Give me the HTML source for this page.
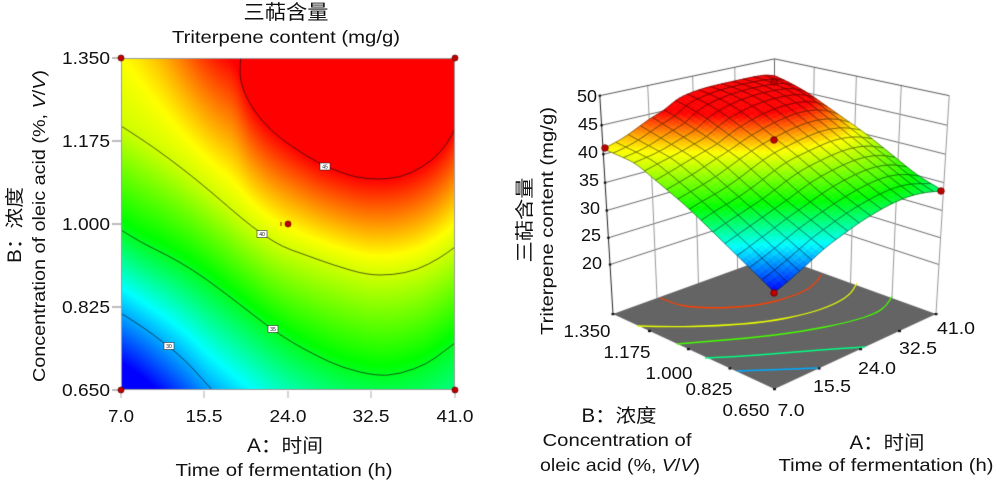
<!DOCTYPE html>
<html><head><meta charset="utf-8">
<style>
html,body{margin:0;padding:0;background:#fff;}
#w{position:relative;width:1000px;height:485px;overflow:hidden;background:#fff;}
canvas,svg{position:absolute;left:0;top:0;}
text{font-family:"Liberation Sans","Noto Sans CJK SC",sans-serif;fill:#111;}
.cj{font-family:"Liberation Sans","Noto Sans CJK SC","WenQuanYi Zen Hei",sans-serif;}
</style></head>
<body><div id="w">
<canvas id="c" width="1000" height="485"></canvas>
<svg width="1000" height="485" viewBox="0 0 1000 485">
<!-- left chart titles -->
<text class="cj" x="286" y="19" font-size="20" text-anchor="middle" textLength="85" lengthAdjust="spacingAndGlyphs">三萜含量</text>
<text x="286" y="43" font-size="17.5" text-anchor="middle" textLength="228" lengthAdjust="spacingAndGlyphs">Triterpene content (mg/g)</text>
<!-- y tick labels -->
<g font-size="17.5" text-anchor="end">
<text x="110" y="64" textLength="48" lengthAdjust="spacingAndGlyphs">1.350</text>
<text x="110" y="147" textLength="48" lengthAdjust="spacingAndGlyphs">1.175</text>
<text x="110" y="230" textLength="48" lengthAdjust="spacingAndGlyphs">1.000</text>
<text x="110" y="313" textLength="48" lengthAdjust="spacingAndGlyphs">0.825</text>
<text x="110" y="396" textLength="48" lengthAdjust="spacingAndGlyphs">0.650</text>
</g>
<!-- x tick labels -->
<g font-size="17.5" text-anchor="middle">
<text x="121" y="422" textLength="26" lengthAdjust="spacingAndGlyphs">7.0</text>
<text x="204" y="422" textLength="37" lengthAdjust="spacingAndGlyphs">15.5</text>
<text x="288" y="422" textLength="37" lengthAdjust="spacingAndGlyphs">24.0</text>
<text x="371" y="422" textLength="37" lengthAdjust="spacingAndGlyphs">32.5</text>
<text x="455" y="422" textLength="37" lengthAdjust="spacingAndGlyphs">41.0</text>
</g>
<text class="cj" x="285" y="452" font-size="19" text-anchor="middle" textLength="76" lengthAdjust="spacingAndGlyphs">A：时间</text>
<text x="284" y="476" font-size="17.5" text-anchor="middle" textLength="217" lengthAdjust="spacingAndGlyphs">Time of fermentation (h)</text>
<text class="cj" transform="translate(21,225) rotate(-90)" font-size="19" text-anchor="middle" textLength="76" lengthAdjust="spacingAndGlyphs">B：浓度</text>
<text transform="translate(45,226) rotate(-90)" font-size="17.5" text-anchor="middle" textLength="312" lengthAdjust="spacingAndGlyphs">Concentration of oleic acid (%, <tspan font-style="italic">V</tspan>/<tspan font-style="italic">V</tspan>)</text>
<!-- contour labels -->
<g font-size="5" text-anchor="middle">
<rect x="320" y="163" width="10" height="7" fill="#fff" stroke="#333" stroke-width="0.6"/><text x="325" y="168.5">45</text>
<rect x="257" y="230.5" width="10" height="7" fill="#fff" stroke="#333" stroke-width="0.6"/><text x="262" y="236">40</text>
<rect x="268" y="325.5" width="10" height="7" fill="#fff" stroke="#333" stroke-width="0.6"/><text x="273" y="331">35</text>
<rect x="164" y="342.5" width="10" height="7" fill="#fff" stroke="#333" stroke-width="0.6"/><text x="169" y="348">30</text>
</g>

<!-- right chart -->
<text class="cj" transform="translate(531,220) rotate(-90)" font-size="19" text-anchor="middle" textLength="85" lengthAdjust="spacingAndGlyphs">三萜含量</text>
<text transform="translate(553,221) rotate(-90)" font-size="17.5" text-anchor="middle" textLength="228" lengthAdjust="spacingAndGlyphs">Triterpene content (mg/g)</text>
<g font-size="17.5" text-anchor="end">
<text x="597" y="102" textLength="20" lengthAdjust="spacingAndGlyphs">50</text>
<text x="598" y="130" textLength="20" lengthAdjust="spacingAndGlyphs">45</text>
<text x="598" y="158" textLength="20" lengthAdjust="spacingAndGlyphs">40</text>
<text x="599" y="186" textLength="20" lengthAdjust="spacingAndGlyphs">35</text>
<text x="600" y="214" textLength="20" lengthAdjust="spacingAndGlyphs">30</text>
<text x="601" y="241" textLength="20" lengthAdjust="spacingAndGlyphs">25</text>
<text x="602" y="269" textLength="20" lengthAdjust="spacingAndGlyphs">20</text>
</g>
<g font-size="17.5" text-anchor="middle">
<text x="587" y="337" textLength="47" lengthAdjust="spacingAndGlyphs">1.350</text>
<text x="627" y="358" textLength="47" lengthAdjust="spacingAndGlyphs">1.175</text>
<text x="669" y="379" textLength="47" lengthAdjust="spacingAndGlyphs">1.000</text>
<text x="709" y="395" textLength="47" lengthAdjust="spacingAndGlyphs">0.825</text>
<text x="746" y="416" textLength="47" lengthAdjust="spacingAndGlyphs">0.650</text>
<text x="791" y="416" textLength="27" lengthAdjust="spacingAndGlyphs">7.0</text>
<text x="832" y="392" textLength="38" lengthAdjust="spacingAndGlyphs">15.5</text>
<text x="877" y="374" textLength="38" lengthAdjust="spacingAndGlyphs">24.0</text>
<text x="918" y="354" textLength="38" lengthAdjust="spacingAndGlyphs">32.5</text>
<text x="956" y="334" textLength="38" lengthAdjust="spacingAndGlyphs">41.0</text>
</g>
<text class="cj" x="619" y="422" font-size="19" text-anchor="middle" textLength="75" lengthAdjust="spacingAndGlyphs">B：浓度</text>
<text x="617" y="446" font-size="17.5" text-anchor="middle" textLength="149" lengthAdjust="spacingAndGlyphs">Concentration of</text>
<text x="620" y="471" font-size="17.5" text-anchor="middle" textLength="160" lengthAdjust="spacingAndGlyphs">oleic acid (%, <tspan font-style="italic">V</tspan>/<tspan font-style="italic">V</tspan>)</text>
<text class="cj" x="887" y="449" font-size="19" text-anchor="middle" textLength="75" lengthAdjust="spacingAndGlyphs">A：时间</text>
<text x="886" y="471" font-size="17.5" text-anchor="middle" textLength="215" lengthAdjust="spacingAndGlyphs">Time of fermentation (h)</text>
</svg>
</div>
<script>
(function(){
var cv=document.getElementById('c'),g=cv.getContext('2d');
function li(a,x){if(x<=a[0][0])return a[0][1];for(var i=1;i<a.length;i++){if(x<=a[i][0]){var t=(x-a[i-1][0])/(a[i][0]-a[i-1][0]);return a[i-1][1]+t*(a[i][1]-a[i-1][1]);}}return a[a.length-1][1];}
var Y45=[[121,-226],[150,-104],[180,-13],[200,27],[220,51],[236,60],[240,70],[243,91],[254,111],[271,131],[294,148],[318,164],[347,175],[367,179],[390,179],[410,174],[433,160],[448,143],[455,128]];
var Y40=[[121,126],[140,138],[167,157],[193,177],[217,197],[240,217],[263,235],[283,247],[300,253],[333,265],[367,275],[393,275],[417,270],[440,258],[455,247]];
var Y35=[[121,230],[140,242],[167,255],[193,270],[217,287],[243,307],[273,330],[293,343],[317,356],[343,368],[377,376],[400,374],[427,364],[443,352],[455,343]];
var Y30=[[121,313],[140,325],[167,345],[187,362],[203,380],[213,390],[240,412],[280,445],[330,475],[377,490],[420,500],[455,500]];
function f2(px,py){var a=li(Y45,px),b=li(Y40,px),c=li(Y35,px),d=li(Y30,px);
 if(py<=a){var r=(a-py)/(b-a);if(r>1.25)r=1.25;return 45+4*r-1.6*r*r;}
 if(py<=b)return 45-5*(py-a)/(b-a);
 if(py<=c)return 40-5*(py-b)/(c-b);
 if(py<=d)return 35-5*(py-c)/(d-c);
 return 30-5*(py-d)/(d-c);}
var st=[[27,0,0,255],[31.5,0,255,255],[35.5,0,255,0],[41,255,255,0],[45,255,0,0]];
function col(f){if(f<=st[0][0])return [0,0,255];for(var i=1;i<st.length;i++){if(f<=st[i][0]){var a=st[i-1],b=st[i],t=(f-a[0])/(b[0]-a[0]);return [Math.round(a[1]+t*(b[1]-a[1])),Math.round(a[2]+t*(b[2]-a[2])),Math.round(a[3]+t*(b[3]-a[3]))];}}return [255,0,0];}
function cs(c){return 'rgb('+c[0]+','+c[1]+','+c[2]+')';}
function line(a,b,s,w){g.beginPath();g.moveTo(a[0],a[1]);g.lineTo(b[0],b[1]);g.strokeStyle=s;g.lineWidth=w||1;g.stroke();}
function path(p){g.beginPath();g.moveTo(p[0][0],p[0][1]);for(var i=1;i<p.length-1;i++){var mx=(p[i][0]+p[i+1][0])/2,my=(p[i][1]+p[i+1][1])/2;g.quadraticCurveTo(p[i][0],p[i][1],mx,my);}var l=p[p.length-1];g.lineTo(l[0],l[1]);}
function dot(x,y,r){g.beginPath();g.arc(x,y,r,0,Math.PI*2);g.fillStyle='#c00000';g.fill();g.strokeStyle='#6a0000';g.lineWidth=0.8;g.stroke();}

/* ---------- field grid + smoothing ---------- */
var X0=121,Y0=58,W=334,H=332;
var G=new Float32Array(W*H);
for(var i=0;i<W;i++)for(var j=0;j<H;j++)G[j*W+i]=f2(X0+i+0.5,Y0+j+0.5);
function blur(A,R){
 var B=new Float32Array(W*H),C=new Float32Array(W*H),n=2*R+1;
 for(var j=0;j<H;j++){var row=j*W;for(var i=0;i<W;i++){var s=0;for(var k=-R;k<=R;k++){var ii=i+k,val;
   if(ii<0)val=2*A[row]-A[row-ii];else if(ii>W-1)val=2*A[row+W-1]-A[row+2*(W-1)-ii];else val=A[row+ii];s+=val;}
   B[row+i]=s/n;}}
 for(var i=0;i<W;i++){for(var j=0;j<H;j++){var s=0;for(var k=-R;k<=R;k++){var jj=j+k,val;
   if(jj<0)val=2*B[i]-B[(-jj)*W+i];else if(jj>H-1)val=2*B[(H-1)*W+i]-B[(2*(H-1)-jj)*W+i];else val=B[jj*W+i];s+=val;}
   C[j*W+i]=s/n;}}
 return C;}
G=blur(blur(blur(G,6),6),5);
var G3=blur(blur(G,10),10);
function samp(A,px,py){var x=px-X0-0.5,y=py-Y0-0.5;if(x<0)x=0;if(y<0)y=0;if(x>W-1.001)x=W-1.001;if(y>H-1.001)y=H-1.001;
 var i=Math.floor(x),j=Math.floor(y),tx=x-i,ty=y-j;
 return A[j*W+i]*(1-tx)*(1-ty)+A[j*W+i+1]*tx*(1-ty)+A[(j+1)*W+i]*(1-tx)*ty+A[(j+1)*W+i+1]*tx*ty;}

/* ---------- 2D contour ---------- */
var im=g.createImageData(W,H);
for(var k=0;k<W*H;k++){var c=col(G[k]);im.data[k*4]=c[0];im.data[k*4+1]=c[1];im.data[k*4+2]=c[2];im.data[k*4+3]=255;}
g.putImageData(im,X0,Y0);
g.save();g.beginPath();g.rect(X0,Y0,W,H);g.clip();
var C45=[[241,56],[239,71],[243,91],[254,111],[271,131],[294,148],[318,163],[347,175],[367,179],[390,179],[410,174],[433,160],[448,143],[457,124]];
var C30=[[119,312],[140,325],[167,345],[187,362],[203,380],[215,393]];
[C45,Y40,Y35,C30].forEach(function(p){path(p);g.strokeStyle='rgba(20,20,20,0.85)';g.lineWidth=0.8;g.stroke();});
g.restore();
g.strokeStyle='#9a9a9a';g.lineWidth=1;g.strokeRect(X0+0.5,Y0+0.5,W-1,H-1);
[58,141,224,307,390].forEach(function(y){line([112,y],[121,y],'#777',1);});
[121,204,288,371,455].forEach(function(x){line([x,391],[x,398],'#aaa',1);});
dot(121,58,3);dot(455,58,3);dot(121,390,3);dot(455,390,3);dot(288,224,3);
g.fillStyle='#700';g.fillRect(280.5,222,1,4);

/* ---------- 3D ---------- */
var F=1188.6,Dd=7.36,TH=24*Math.PI/180,S=Math.sin(TH),Co=Math.cos(TH),CH=1.368,CX=774.5,CY=314,Z0=10.5,ZM=50;
function P(u,v,z){var l=(u-v)/2,d=(u+v)/2,h=(z-Z0)/(ZM-Z0);var yc=CH*h*Co+d*S,zc=Dd+d*Co-CH*h*S;return [CX+F*l/zc,CY-F*yc/zc];}
function f3(u,v){var px=121+(u+1)/2*334,py=390-(v+1)/2*332;return samp(G3,px,py)+1.6*(1-u)*(1-v)/4;}
// walls grid
for(var z=20;z<=45;z+=5){line(P(-1,1,z),P(1,1,z),'#444',0.8);line(P(1,1,z),P(1,-1,z),'#444',0.8);}
[-0.5,0,0.5].forEach(function(u){line(P(u,1,Z0),P(u,1,ZM),'#999',1);});
[0.5,0,-0.5].forEach(function(v){line(P(1,v,Z0),P(1,v,ZM),'#999',1);});
line(P(-1,1,ZM),P(1,1,ZM),'#444',0.9);line(P(1,1,ZM),P(1,-1,ZM),'#444',0.9);
line(P(1,1,Z0),P(1,1,ZM),'#666',1);line(P(1,-1,Z0),P(1,-1,ZM),'#999',1);
line(P(-1,1,Z0),P(-1,1,ZM),'#222',1);
for(var z=20;z<=50;z+=5){var q=P(-1,1,z);g.fillStyle='#000';g.fillRect(q[0]-1.2,q[1]-1,2.4,2);}
// floor
var fc=[P(-1,-1,Z0),P(1,-1,Z0),P(1,1,Z0),P(-1,1,Z0)];
g.beginPath();g.moveTo(fc[0][0],fc[0][1]);for(var i=1;i<4;i++)g.lineTo(fc[i][0],fc[i][1]);g.closePath();g.fillStyle='#646464';g.fill();
[-0.5,0,0.5].forEach(function(v){var q=P(-1,v,Z0);g.fillStyle='#111';g.fillRect(q[0]-1.5,q[1]-1,3,2.2);});
[-0.5,0,0.5].forEach(function(u){var q=P(u,-1,Z0);g.fillStyle='#111';g.fillRect(q[0]-1.5,q[1]-1,3,2.2);});
[fc[0],fc[1],fc[3]].forEach(function(q){g.fillStyle='#111';g.fillRect(q[0]-1.5,q[1]-1,3,2.2);});
var FL=[
 [44,[[660,298],[675,304],[690,307],[717,308],[740,307],[765,304],[787,298],[805,291],[815,284],[821,275]]],
 [40.5,[[637,326],[667,327],[717,326],[767,322],[807,314],[833,305],[850,295],[857,283]]],
 [37,[[677,344],[700,342],[750,338],[800,332],[850,322],[877,313],[887,305],[892,296]]],
 [33.5,[[705,358],[733,357],[783,353],[833,349],[865,347]]],
 [30,[[737,371],[767,370],[818,368]]]];
FL.forEach(function(o){path(o[1]);g.strokeStyle=cs(col(o[0]));g.lineWidth=1.3;g.stroke();});
// surface
var N=15,SB=3,M=N*SB,V=[];
for(var i=0;i<=M;i++){V[i]=[];for(var j=0;j<=M;j++){var u=-1+2*i/M,v=-1+2*j/M,f=f3(u,v);V[i][j]={p:P(u,v,f),f:f};}}
var cells=[];
for(var i=0;i<N;i++)for(var j=0;j<N;j++){var u=-1+2*(i+.5)/N,v=-1+2*(j+.5)/N,f=f3(u,v),d=(u+v)/2,h=(f-Z0)/(ZM-Z0);cells.push({i:i,j:j,z:Dd+d*Co-CH*h*S});}
cells.sort(function(a,b){return b.z-a.z;});
cells.forEach(function(c){
 for(var a=0;a<SB;a++)for(var b=0;b<SB;b++){var I=c.i*SB+a,J=c.j*SB+b;var q=[V[I][J],V[I+1][J],V[I+1][J+1],V[I][J+1]];var ff=(q[0].f+q[1].f+q[2].f+q[3].f)/4;var s=cs(col(ff));
  g.beginPath();g.moveTo(q[0].p[0],q[0].p[1]);for(var k=1;k<4;k++)g.lineTo(q[k].p[0],q[k].p[1]);g.closePath();g.fillStyle=s;g.fill();g.strokeStyle=s;g.lineWidth=0.6;g.stroke();}
 var I=c.i*SB,J=c.j*SB,pts=[];
 for(var k=0;k<SB;k++)pts.push(V[I+k][J].p);
 for(var k=0;k<SB;k++)pts.push(V[I+SB][J+k].p);
 for(var k=SB;k>0;k--)pts.push(V[I+k][J+SB].p);
 for(var k=SB;k>0;k--)pts.push(V[I][J+k].p);
 g.beginPath();g.moveTo(pts[0][0],pts[0][1]);for(var k=1;k<pts.length;k++)g.lineTo(pts[k][0],pts[k][1]);g.closePath();
 g.strokeStyle='rgba(0,0,0,0.7)';g.lineWidth=0.6;g.stroke();
});
dot(605,148,3.3);dot(941,191,3.3);dot(774,82,3.3);dot(774,140,3.3);dot(774,293,3.3);
})();
</script>
</body></html>
